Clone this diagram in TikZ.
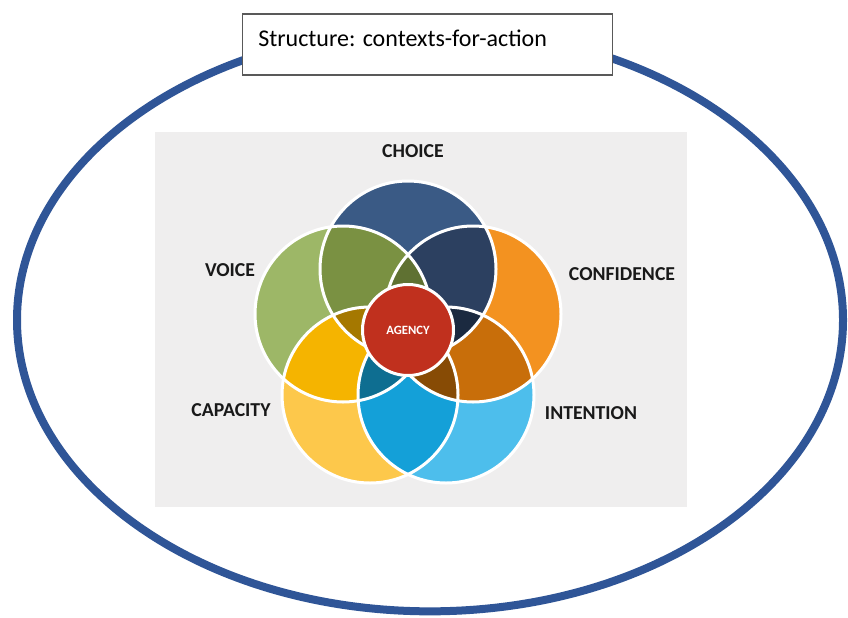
\documentclass[tikz,border=0pt]{standalone}
\usepackage{fontspec}
\setmainfont{Carlito}
\usepackage{tikz}
\usetikzlibrary{positioning,calc}
\usepackage{xcolor}
\definecolor{rimblue}{RGB}{47,85,151}
\definecolor{panelgrey}{RGB}{239,238,238}
\definecolor{choicecol}{RGB}{58,90,133}
\definecolor{voicecol}{RGB}{157,183,103}
\definecolor{confcol}{RGB}{243,146,32}
\definecolor{capcol}{RGB}{253,200,75}
\definecolor{intcol}{RGB}{77,190,236}
\definecolor{voicho}{RGB}{122,145,66}
\definecolor{chocon}{RGB}{44,64,96}
\definecolor{conint}{RGB}{200,110,10}
\definecolor{intcap}{RGB}{20,160,216}
\definecolor{capvoi}{RGB}{245,180,0}
\definecolor{voichocon}{RGB}{95,113,50}
\definecolor{chaconint}{RGB}{27,42,64}
\definecolor{conintcap}{RGB}{135,75,5}
\definecolor{intcapvoi}{RGB}{14,110,145}
\definecolor{capvoicho}{RGB}{165,120,0}
\definecolor{agencyred}{RGB}{192,48,30}

\begin{document}
\begin{tikzpicture}[x=0.75pt,y=-0.75pt,
	petal/.style={draw=white,line width=2.25pt},
	lbl/.style={font=\bfseries\fontsize{14.8}{17}\selectfont,text=black!90},
	titlebox/.style={draw=black!65,line width=0.8pt,fill=white,minimum width=278pt,minimum height=45.75pt,inner sep=0pt}]
		\useasboundingbox (0,0) rectangle (848,617);
		\draw[rimblue,line width=6pt] (430,320) ellipse [x radius=309.75pt,y radius=218.5pt];
		\node[titlebox] (title) at (427.5,44.5) {};
		\node[anchor=base west,inner sep=0pt,font=\fontsize{18}{21}\selectfont] (titletext) at (258,46) {Structure: contexts-for-action};
		\fill[panelgrey] (155,132) rectangle (687,507);
		
		\coordinate (cho) at (408,269);
		\coordinate (voi) at (343,314);
		\coordinate (con) at (473,314);
		\coordinate (cap) at (370,395);
		\coordinate (int) at (446,395);
		
		\fill[choicecol] (cho) circle (66pt);
		\fill[voicecol] (voi) circle (66pt);
		\fill[confcol] (con) circle (66pt);
		\fill[capcol] (cap) circle (66pt);
		\fill[intcol] (int) circle (66pt);
		
		\begin{scope} \clip (voi) circle (66pt); \fill[voicho] (cho) circle (66pt); \end{scope}
		\begin{scope} \clip (cho) circle (66pt); \fill[chocon] (con) circle (66pt); \end{scope}
		\begin{scope} \clip (con) circle (66pt); \fill[conint] (int) circle (66pt); \end{scope}
		\begin{scope} \clip (int) circle (66pt); \fill[intcap] (cap) circle (66pt); \end{scope}
		\begin{scope} \clip (cap) circle (66pt); \fill[capvoi] (voi) circle (66pt); \end{scope}
		
		\begin{scope} \clip (voi) circle (66pt); \clip (cho) circle (66pt); \fill[voichocon] (con) circle (66pt); \end{scope}
		\begin{scope} \clip (cho) circle (66pt); \clip (con) circle (66pt); \fill[chaconint] (int) circle (66pt); \end{scope}
		\begin{scope} \clip (con) circle (66pt); \clip (int) circle (66pt); \fill[conintcap] (cap) circle (66pt); \end{scope}
		\begin{scope} \clip (int) circle (66pt); \clip (cap) circle (66pt); \fill[intcapvoi] (voi) circle (66pt); \end{scope}
		\begin{scope} \clip (cap) circle (66pt); \clip (voi) circle (66pt); \fill[capvoicho] (cho) circle (66pt); \end{scope}
		
		\draw[petal] (cho) circle (66pt);
		\draw[petal] (voi) circle (66pt);
		\draw[petal] (con) circle (66pt);
		\draw[petal] (cap) circle (66pt);
		\draw[petal] (int) circle (66pt);
		
		\node[circle,fill=agencyred,draw=white,line width=2.25pt,minimum size=68.25pt,inner sep=0pt,text=white,font=\bfseries\fontsize{9.5}{11}\selectfont] (agency) at (408,330) {AGENCY};
		
		\node[lbl] (choice) at (413,151) {CHOICE};
		\node[lbl] (voice) at (230,270) {VOICE};
		\node[lbl] (confidence) at (622,274) {CONFIDENCE};
		\node[lbl] (capacity) at (231,410) {CAPACITY};
		\node[lbl] (intention) at (591,413) {INTENTION};
\end{tikzpicture}
\end{document}
